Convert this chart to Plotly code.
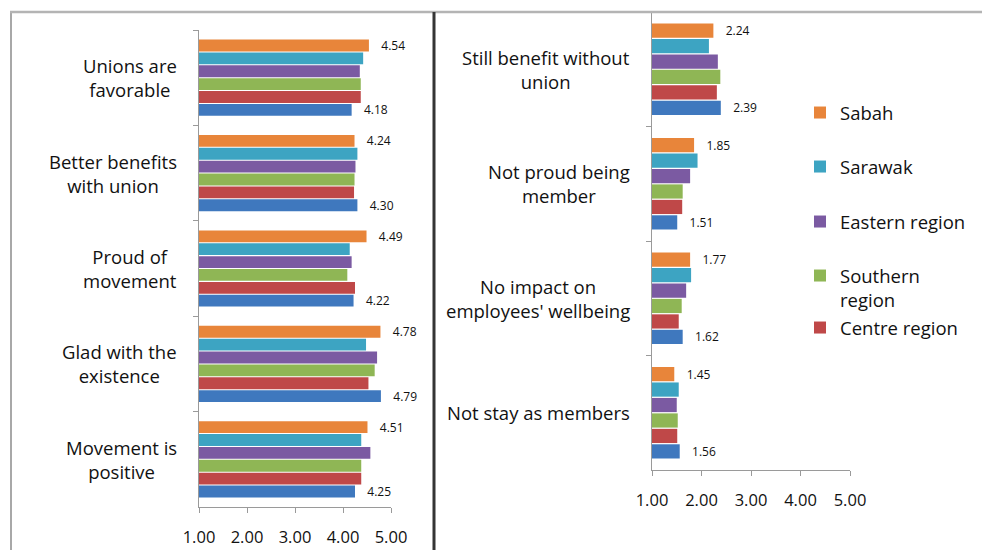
import plotly.graph_objects as go

# Survey statements (mean agreement scores, 1-5 scale)
positive_items = ["Unions are<br>favorable", "Better benefits<br>with union", "Proud of<br>movement",
                  "Glad with the<br>existence", "Movement is<br>positive"]
negative_items = ["Still benefit without<br>union", "Not proud being<br>member", "No impact on<br>employees' wellbeing",
                  "Not stay as members"]

regions = ["Sabah", "Sarawak", "Eastern region", "Southern<br>region", "Centre region", "Northern region"]
colors = ["#E8853A", "#3DA4C2", "#7B5AA2", "#8FB655", "#BF4848", "#3F78BE"]

# one list per region, in the order of the statements above
positive_scores = {
    "Sabah":           [4.54, 4.24, 4.49, 4.78, 4.51],
    "Sarawak":         [4.42, 4.30, 4.14, 4.48, 4.38],
    "Eastern region":  [4.35, 4.26, 4.18, 4.71, 4.57],
    "Southern<br>region": [4.37, 4.24, 4.09, 4.66, 4.38],
    "Centre region":   [4.37, 4.23, 4.25, 4.53, 4.38],
    "Northern region": [4.18, 4.30, 4.22, 4.79, 4.25],
}
negative_scores = {
    "Sabah":           [2.24, 1.85, 1.77, 1.45],
    "Sarawak":         [2.15, 1.92, 1.79, 1.54],
    "Eastern region":  [2.33, 1.77, 1.69, 1.50],
    "Southern<br>region": [2.38, 1.62, 1.60, 1.52],
    "Centre region":   [2.31, 1.61, 1.54, 1.51],
    "Northern region": [2.39, 1.51, 1.62, 1.56],
}
labelled = {"Sabah", "Northern region"}

tick_vals = [1, 2, 3, 4, 5]
tick_text = ["1.00", "2.00", "3.00", "4.00", "5.00"]
AXIS_MIN = 1

W, H = 982, 550
FONT = "Open Sans"
TEXT = "#111111"
GRID = "#9a9a9a"

fig = go.Figure()


def add_panel(items, scores, xa, ya, with_legend):
    for i, name in enumerate(regions):
        vals = scores[name]
        show_text = name in labelled
        fig.add_trace(go.Bar(
            y=items,
            x=[v - AXIS_MIN for v in vals],
            base=AXIS_MIN,
            orientation="h",
            name=name,
            marker=dict(color=colors[i], line=dict(width=0)),
            text=["\u00a0\u00a0\u00a0" + f"{v:.2f}" for v in vals] if show_text else None,
            textposition="outside" if show_text else "none",
            textangle=0,
            constraintext="none",
            cliponaxis=False,
            textfont=dict(family=FONT, size=12, color=TEXT),
            xaxis=xa, yaxis=ya,
            showlegend=with_legend and name != "Northern region",
            legend="legend" if i == 0 else f"legend{i + 1}",
            hoverinfo="skip",
        ))


add_panel(positive_items, positive_scores, "x", "y", True)
add_panel(negative_items, negative_scores, "x2", "y2", False)

axis_common = dict(
    range=[1, 5], tickvals=tick_vals, ticktext=tick_text,
    showline=True, linecolor=GRID, linewidth=1,
    ticks="outside", ticklen=5, tickcolor=GRID, ticklabelstandoff=10,
    showgrid=False, zeroline=False, automargin=False,
    tickfont=dict(family=FONT, size=16.5, color=TEXT),
    fixedrange=True,
)
yaxis_common = dict(
    type="category", autorange="reversed", showticklabels=False,
    showline=True, linecolor=GRID, linewidth=1,
    ticks="outside", ticklen=5, tickcolor=GRID, tickson="boundaries",
    showgrid=False, zeroline=False, automargin=False, fixedrange=True,
)


def px_x(p):
    return p / W


def px_y(p):
    return 1 - p / H


fig.update_layout(
    width=W, height=H,
    margin=dict(l=0, r=0, t=0, b=0, pad=0, autoexpand=False),
    paper_bgcolor="white", plot_bgcolor="white",
    showlegend=True,
    barmode="group", bargap=0.19, bargroupgap=0.08,
    font=dict(family=FONT, color=TEXT),
    xaxis=dict(domain=[px_x(199), px_x(391)], anchor="y", **axis_common),
    yaxis=dict(domain=[px_y(507), px_y(30)], anchor="x", **yaxis_common),
    xaxis2=dict(domain=[px_x(652), px_x(850)], anchor="y2", **axis_common),
    yaxis2=dict(domain=[px_y(470), px_y(12)], anchor="x2", **yaxis_common),
)

# separate legend boxes so each entry sits at its own height
legend_rows = [113, 167, 222, 288, 328]
for i, yc in enumerate(legend_rows):
    key = "legend" if i == 0 else f"legend{i + 1}"
    fig.update_layout({key: dict(
        x=px_x(800), y=px_y(yc), xanchor="left", yanchor="middle",
        bgcolor="rgba(0,0,0,0)", borderwidth=0, visible=True,
        font=dict(family=FONT, size=18.5, color=TEXT),
        valign="top", itemclick=False, itemdoubleclick=False,
    )})

# statement labels, centred line by line, to the left of each panel
for items, xd, yd in [(positive_items, "x domain", "y"), (negative_items, "x2 domain", "y2")]:
    for it in items:
        fig.add_annotation(
            xref=xd, yref=yd, x=0, y=it, xanchor="right", yanchor="middle",
            xshift=-20, text=it, showarrow=False, align="center",
            font=dict(family=FONT, size=18.5, color=TEXT),
        )

# panel frame
fig.add_shape(type="line", xref="paper", yref="paper", x0=px_x(11), x1=px_x(11), y0=0, y1=px_y(12),
              line=dict(color="#a8a8a8", width=2))
fig.add_shape(type="line", xref="paper", yref="paper", x0=px_x(10), x1=1, y0=px_y(12), y1=px_y(12),
              line=dict(color="#b4b4b4", width=2.5))
fig.add_shape(type="line", xref="paper", yref="paper", x0=px_x(434), x1=px_x(434), y0=0, y1=px_y(12),
              line=dict(color="#353535", width=3))

fig.write_html("out.html")
